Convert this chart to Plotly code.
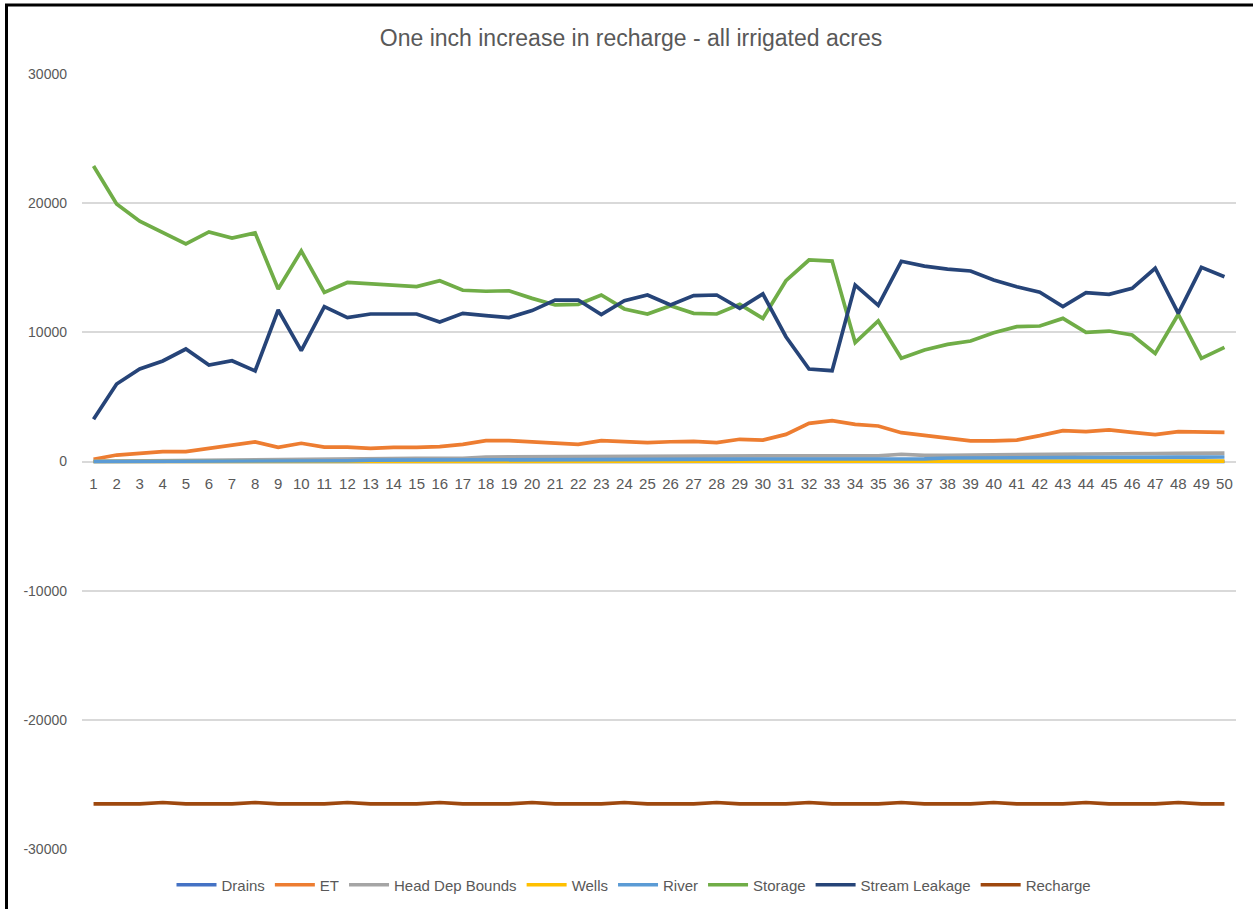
import plotly.graph_objects as go

years = list(range(1, 51))

drains = [0] * 50

et = [170, 500, 630, 760, 760, 1020, 1250, 1510, 1100, 1410,
      1120, 1120, 1020, 1100, 1100, 1150, 1330, 1610, 1610, 1530,
      1410, 1330, 1610, 1530, 1460, 1530, 1560, 1460, 1720, 1660,
      2100, 2950, 3160, 2880, 2750, 2230, 2030, 1800, 1590, 1590,
      1660, 2000, 2390, 2310, 2440, 2260, 2080, 2310, 2260, 2260]

head_dep_bounds = [20, 40, 60, 80, 100, 120, 150, 170, 180, 190,
                   200, 210, 220, 230, 240, 245, 250, 350, 360, 370,
                   380, 420, 420, 425, 425, 425, 430, 430, 430, 435,
                   435, 440, 440, 440, 440, 560, 480, 480, 500, 540,
                   550, 560, 600, 605, 610, 615, 620, 625, 640, 650]

wells = [0, 0, 0, 0, 0, 0, 0, 0, 0, 0,
         0, 5, 10, 10, 10, 10, 10, 10, 10, 10,
         10, 15, 15, 15, 15, 15, 15, 15, 15, 20,
         20, 20, 20, 20, 20, 20, 20, 25, 25, 25,
         25, 25, 25, 25, 25, 25, 30, 30, 30, 30]

river = [0, 0, 0, 0, 0, 0, 10, 20, 20, 30,
         40, 60, 100, 110, 110, 115, 120, 120, 125, 130,
         130, 170, 170, 175, 175, 180, 185, 185, 190, 195,
         195, 200, 200, 200, 200, 205, 210, 270, 270, 275,
         275, 280, 280, 285, 285, 290, 340, 340, 345, 350]

storage = [22880, 19940, 18600, 17750, 16840, 17770, 17300, 17700, 13350, 16300,
           13090, 13860, 13740, 13660, 13540, 14000, 13260, 13180, 13220, 12630,
           12120, 12170, 12890, 11810, 11420, 12060, 11470, 11420, 12170, 11080,
           14000, 15600, 15520, 9200, 10880, 7990, 8630, 9070, 9330, 9970,
           10440, 10490, 11080, 10000, 10100, 9790, 8370, 11400, 7990, 8840]

stream_leakage = [3270, 6000, 7160, 7780, 8710, 7470, 7800, 7010, 11730, 8580,
                  11990, 11140, 11420, 11420, 11420, 10800, 11470, 11290, 11140, 11680,
                  12500, 12500, 11370, 12450, 12890, 12120, 12840, 12890, 11860, 12970,
                  9660, 7160, 7030, 13660, 12090, 15500, 15130, 14900, 14750, 14050,
                  13530, 13100, 11990, 13070, 12940, 13410, 14960, 11470, 15030, 14310]

recharge = [-26500, -26500, -26500, -26400, -26500, -26500, -26500, -26400, -26500, -26500,
            -26500, -26400, -26500, -26500, -26500, -26400, -26500, -26500, -26500, -26400,
            -26500, -26500, -26500, -26400, -26500, -26500, -26500, -26400, -26500, -26500,
            -26500, -26400, -26500, -26500, -26500, -26400, -26500, -26500, -26500, -26400,
            -26500, -26500, -26500, -26400, -26500, -26500, -26500, -26400, -26500, -26500]

series = [
    ("Drains", drains, "#4472C4"),
    ("ET", et, "#ED7D31"),
    ("Head Dep Bounds", head_dep_bounds, "#A5A5A5"),
    ("Wells", wells, "#FFC000"),
    ("River", river, "#5B9BD5"),
    ("Storage", storage, "#70AD47"),
    ("Stream Leakage", stream_leakage, "#264478"),
    ("Recharge", recharge, "#9E480E"),
]

y_tick_vals = [-30000, -20000, -10000, 0, 10000, 20000, 30000]
y_tick_text = ["-30000", "-20000", "-10000", "0", "10000", "20000", "30000"]

title_text = "One inch increase in recharge - all irrigated acres"

FONT = "Liberation Sans"
GRAY = "#595959"

fig = go.Figure()
for name, vals, color in series:
    fig.add_trace(go.Scatter(
        x=years, y=vals, name=name, mode="lines",
        line=dict(color=color, width=3.7),
    ))

W, H = 1253, 909
L, R, T, B = 82, 17, 74, 60
pw = W - L - R
ph = H - T - B

def px_x(px):
    return (px - L) / pw

def px_y(py):
    return (H - B - py) / ph

fig.update_layout(
    width=W, height=H,
    margin=dict(l=L, r=R, t=T, b=B, autoexpand=False),
    paper_bgcolor="white",
    plot_bgcolor="white",
    font=dict(family=FONT, size=14, color=GRAY),
    title=dict(text=title_text, x=631 / W, xref="container", xanchor="center",
               y=1 - 38 / H, yref="container", yanchor="middle",
               font=dict(family=FONT, size=23, color=GRAY)),
    showlegend=True,
    legend=dict(orientation="h", x=634 / W, xref="container", xanchor="center",
                y=1 - 885 / H, yref="container", yanchor="middle",
                font=dict(family=FONT, size=15, color=GRAY),
                itemwidth=40, traceorder="normal"),
    xaxis=dict(range=[0.5, 50.5], tickmode="array", tickvals=years,
               ticktext=[str(v) for v in years],
               showgrid=False, zeroline=False, showline=False,
               anchor="free", position=0.5, ticks="",
               tickfont=dict(family=FONT, size=15, color=GRAY),
               ticklabelstandoff=11),
    yaxis=dict(range=[-30000, 30000], tickmode="array", tickvals=y_tick_vals,
               ticktext=y_tick_text, showgrid=True, gridcolor="#D9D9D9",
               gridwidth=1.5, zeroline=False, showline=False, ticks="",
               tickfont=dict(family=FONT, size=14, color=GRAY),
               ticklabelstandoff=14),
    shapes=[
        dict(type="line", xref="paper", yref="paper",
             x0=px_x(6.5), x1=px_x(6.5), y0=px_y(H + 5), y1=px_y(5),
             line=dict(color="black", width=3)),
        dict(type="line", xref="paper", yref="paper",
             x0=px_x(5), x1=px_x(W + 5), y0=px_y(5), y1=px_y(5),
             line=dict(color="black", width=3)),
    ],
)

fig.write_html("out.html", config={"displayModeBar": False},
               post_script="document.body.style.margin='0';")
